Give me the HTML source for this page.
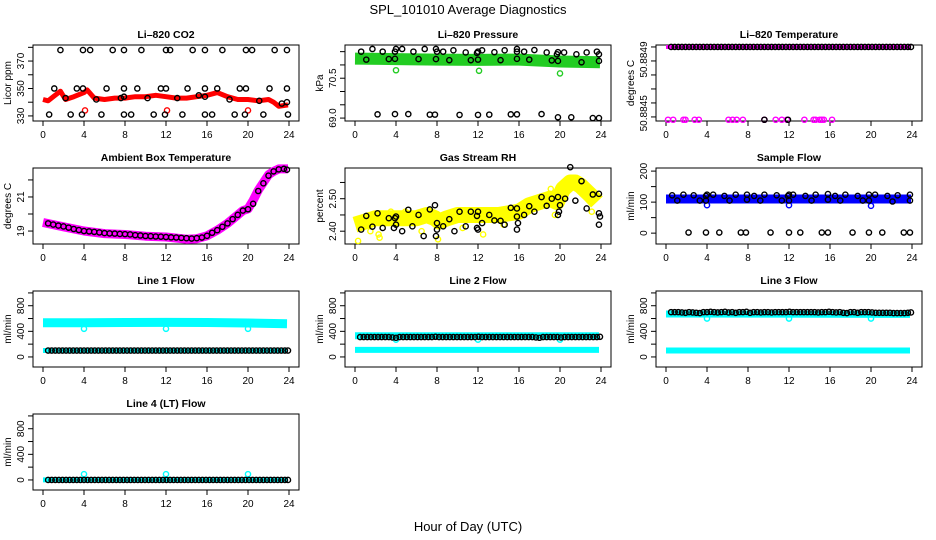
<!DOCTYPE html>
<html><head><meta charset="utf-8"><style>
html,body{margin:0;padding:0;background:#fff;}
svg{display:block;font-family:"Liberation Sans",sans-serif;}
</style></head><body>
<svg id="chart" width="936" height="540" xmlns="http://www.w3.org/2000/svg">
<rect width="936" height="540" fill="#fff"/>
<text x="468" y="14" font-size="13" text-anchor="middle">SPL_101010  Average Diagnostics</text>
<text x="468" y="531" font-size="13" text-anchor="middle">Hour of Day (UTC)</text>
</svg>
<script>
// ---------- data ----------
const dH = [0.5,0.85,1.2,1.55,1.9,2.25,2.6,2.95,3.3,3.65,4.0,4.35,4.7,5.05,5.4,5.75,6.1,6.45,6.8,7.15,7.5,7.85,8.2,8.55,8.9,9.25,9.6,9.95,10.3,10.65,11.0,11.35,11.7,12.05,12.4,12.75,13.1,13.45,13.8,14.15,14.5,14.85,15.2,15.55,15.9,16.25,16.6,16.95,17.3,17.65,18.0,18.35,18.7,19.05,19.4,19.75,20.1,20.45,20.8,21.15,21.5,21.85,22.2,22.55,22.9,23.25,23.6,23.9];
// CO2
const co2BandH = [0,0.5,1,1.7,2.2,3,4,4.3,5,6,7,8,9,10,11,12,13,14,15,16,17,18,19,20,21,22,22.5,23,23.9];
const co2BandV = [342,341,344,348,342,344,347,349,343,342,343,343,344,344,345,344,343,343,344,345,347,344,342,342,341,342,340,337,338];
const co2RedH = [4.1,12.1,20];
const co2RedV = [334,334,334];
const co2BlkH = [1.7,3.9,4.6,6.8,7.9,9.6,12,12.4,14.6,15.8,17.5,19.8,20.4,22.6,23.8, 1.1,3.3,3.9,6.2,7.9,9.2,11.5,12,14.1,15.8,17,19.2,19.8,22.1,23.8, 2.2,5.2,7.6,7.9,10.2,13.1,15.2,15.8,18.2,21.1,23.3,23.8, 0.6,2.7,3.8,5.7,7.9,8.6,10.8,11.9,13.6,15.8,16.5,18.7,19.7,21.5,23.9];
const co2BlkV = [378,378,378,378,378,378,378,378,378,378,378,378,378,378,378, 350,350,350,350,350,350,350,350,350,350,350,350,350,350,350, 343,342,343,344,343,343,345,344,342,341,339,340, 331,331,331,331,331,331,331,331,331,331,331,331,331,331,331];
// Pressure
const prBandH = [0,4,8,12,16,20,23.9];
const prBandV = [71.24,71.22,71.2,71.19,71.2,71.13,71.1];
const prGrnH = [4,12.1,20];
const prGrnV = [70.8,70.78,70.68];
const prBlkH = [0.6,1.7,2.7,3.9,4,4.6,5.7,6.8,7.9,8,8.6,9.6,10.8,11.9,12,12.4,13.6,14.6,15.8,15.8,16.5,17.5,18.7,19.7,19.8,20.4,21.6,22.6,23.6,23.8, 1.1,3.3,3.9,6.2,7.9,9.2,11.3,12,14.2,15.8,17,19.2,19.8,22.1,23.8, 2.2,3.9,5.2,7.3,7.8,10.2,12,13.1,15.2,15.8,18.2,19.8,21.1,23.2,23.8];
const prBlkV = [71.5,71.6,71.5,71.5,71.6,71.6,71.5,71.6,71.6,71.5,71.5,71.55,71.47,71.45,71.5,71.55,71.48,71.55,71.6,71.5,71.5,71.56,71.47,71.4,71.48,71.47,71.4,71.47,71.5,71.4, 71.2,71.22,71.23,71.22,71.22,71.18,71.18,71.2,71.18,71.23,71.2,71.17,71.15,71.1,71.15, 69.14,69.15,69.15,69.13,69.13,69.12,69.12,69.13,69.14,69.14,69.15,69.03,69.03,69.0,69.0];
// Li-820 temperature
const ltBandH = [0,23.9];
const ltBandV = [50.8849,50.8849];
const ltBlkV = [50.8849,50.8849,50.8849,50.8849,50.8849,50.8849,50.8849,50.8849,50.8849,50.8849,50.8849,50.8849,50.8849,50.8849,50.8849,50.8849,50.8849,50.8849,50.8849,50.8849,50.8849,50.8849,50.8849,50.8849,50.8849,50.8849,50.8849,50.8849,50.8849,50.8849,50.8849,50.8849,50.8849,50.8849,50.8849,50.8849,50.8849,50.8849,50.8849,50.8849,50.8849,50.8849,50.8849,50.8849,50.8849,50.8849,50.8849,50.8849,50.8849,50.8849,50.8849,50.8849,50.8849,50.8849,50.8849,50.8849,50.8849,50.8849,50.8849,50.8849,50.8849,50.8849,50.8849,50.8849,50.8849,50.8849,50.8849,50.8849];
const ltMagH = [0.2,0.7,1.7,1.9,2.8,3.2,6.1,6.5,6.9,7.5,9.6,10.7,11.3,11.8,13.5,14.4,14.6,15.0,15.2,15.4,16.2];
const ltMagV = [50.88438,50.88438,50.88438,50.88438,50.88438,50.88438,50.88438,50.88438,50.88438,50.88438,50.88438,50.88438,50.88438,50.88438,50.88438,50.88438,50.88438,50.88438,50.88438,50.88438,50.88438];
const ltBlkLowH = [9.6,11.9];
const ltBlkLowV = [50.88438,50.88438];
// Ambient box temperature
const ambBandH = [0,2,4,6,8,10,12,14,15,16,17,18,19,19.5,20,20.5,21,22,22.5,23,23.9];
const ambBandV = [19.5,19.25,19.0,18.85,18.8,18.7,18.65,18.52,18.55,18.72,19.05,19.45,19.95,20.2,20.3,20.8,21.4,22.3,22.5,22.65,22.65];
const ambH = [0.5,1,1.5,2,2.5,3,3.5,4,4.5,5,5.5,6,6.5,7,7.5,8,8.5,9,9.5,10,10.5,11,11.5,12,12.5,13,13.5,14,14.5,15,15.5,16,16.5,17,17.5,18,18.5,19,19.5,20,20.5,21,21.5,22,22.5,23,23.5,23.8];
const ambV = [19.45,19.38,19.32,19.27,19.2,19.12,19.06,19.0,18.98,18.95,18.92,18.88,18.86,18.85,18.83,18.82,18.8,18.76,18.74,18.71,18.7,18.68,18.67,18.65,18.63,18.62,18.6,18.58,18.56,18.58,18.62,18.72,18.9,19.05,19.25,19.45,19.7,19.95,20.2,20.28,20.6,21.35,21.8,22.25,22.5,22.62,22.65,22.6];
// Gas stream RH
const rhBandH = [0,1,2,3,4,5,6,7,7.8,8.2,9,10,11,12,13,14,15,16,17,18,19,19.7,20.3,21,21.5,22,23,23.6];
const rhBandV = [2.42,2.43,2.44,2.44,2.44,2.44,2.44,2.45,2.44,2.43,2.44,2.45,2.45,2.45,2.45,2.45,2.455,2.46,2.48,2.49,2.50,2.49,2.53,2.55,2.55,2.54,2.51,2.49];
const rhYelH = [0.3,2.3,2.4,8.1,12.5,19.1,23.1,3.5,4.9,19.5,1.5,6.5,10.5,14.5,17.5];
const rhYelV = [2.37,2.39,2.38,2.375,2.39,2.53,2.46,2.46,2.46,2.45,2.4,2.4,2.41,2.42,2.47];
const rhBlkH = [0.6,1.1,1.7,2.2,2.7,3.3,3.8,3.9,4,4,4.6,5.2,5.6,6.2,6.7,7.3,7.8,7.9,8,8,8.6,9.2,9.7,10.2,10.8,11.3,11.9,12,11.9,12,12.4,13.1,13.6,14.2,14.6,15.2,15.8,15.8,15.9,15.8,16.5,17,17.5,18.2,18.7,19.2,19.8,19.8,19.9,20,20.5,21,21.5,22.1,22.6,23.2,23.8,23.8,23.9,23.8];
const rhBlkV = [2.405,2.447,2.414,2.455,2.41,2.44,2.41,2.44,2.445,2.42,2.40,2.466,2.415,2.45,2.385,2.467,2.48,2.385,2.425,2.405,2.415,2.437,2.40,2.46,2.415,2.46,2.447,2.46,2.41,2.405,2.425,2.45,2.433,2.432,2.42,2.472,2.47,2.445,2.425,2.405,2.45,2.477,2.46,2.505,2.478,2.5,2.505,2.45,2.46,2.48,2.5,2.597,2.494,2.554,2.47,2.513,2.515,2.455,2.445,2.42];
// Sample flow
const sfBandH = [0,4,8,12,16,20,23.9];
const sfBandV = [110,110,110,110,110,110,110];
const sfBluH = [4,12,20];
const sfBluV = [90,90,88];
const sfBlkH = [0.6,1.7,2.7,3.9,4,4.6,5.7,6.8,7.9,8.6,9.6,10.8,11.9,12,12.4,13.6,14.6,15.8,16.5,17.5,18.7,19.8,20.4,21.6,22.6,23.8, 1.1,3.3,3.9,6.2,7.9,9.2,11.3,12,14.2,15.8,17,19.2,19.8,22.1,23.8, 2.2,3.9,5.2,7.3,7.8,10.2,12,13.1,15.2,15.8,18.2,19.8,21.1,23.2,23.8];
const sfBlkV = [122,124,122,120,124,124,120,124,124,120,124,122,120,124,124,120,124,126,120,124,120,124,124,120,122,124, 105,105,105,105,108,105,105,105,105,108,105,105,105,102,105, 2,2,2,2,2,2,2,2,2,2,2,2,2,2,2];
// Line flows
const dipH = [4,12,20];
const l1TopH = [0,4,8,12,16,20,23.8];
const l1TopV = [535,535,538,540,538,530,520];
const l1DipV = [440,440,440];
const l1BotH = [0,23.8];
const l1BotV = [100,100];
const l1BlkV = [100,100,100,100,100,100,100,100,100,100,100,100,100,100,100,100,100,100,100,100,100,100,100,100,100,100,100,100,100,100,100,100,100,100,100,100,100,100,100,100,100,100,100,100,100,100,100,100,100,100,100,100,100,100,100,100,100,100,100,100,100,100,100,100,100,100,100,100];
const l2TopH = [0,23.8];
const l2TopV = [330,330];
const l2DipV = [270,270,270];
const l2BotH = [0,23.8];
const l2BotV = [110,110];
const l2BlkV = [310,310,310,310,310,310,310,310,310,305,300,310,310,310,310,310,310,310,310,310,310,315,310,310,310,310,310,310,310,310,310,310,310,315,310,310,310,310,310,310,310,310,310,310,310,310,310,310,310,305,300,310,310,310,310,310,305,310,310,310,310,310,310,310,310,310,310,315];
const l3TopH = [0,23.8];
const l3TopV = [670,665];
const l3DipV = [600,600,600];
const l3BotH = [0,23.8];
const l3BotV = [100,100];
const l3BlkV = [700,700,700,695,690,700,695,690,685,700,700,705,700,695,700,705,695,700,690,700,700,705,690,700,700,695,700,700,695,700,700,700,700,705,700,700,700,700,700,700,700,695,700,700,705,700,695,700,690,685,700,700,690,700,700,700,695,690,690,690,690,690,685,685,685,685,690,695];
const l4BandH = [0,23.9];
const l4BandV = [0,0];
const l4CyaH = [4,12,20];
const l4CyaV = [90,90,90];
const l4BlkV = [0,0,0,0,0,0,0,0,0,0,0,0,0,0,0,0,0,0,0,0,0,0,0,0,0,0,0,0,0,0,0,0,0,0,0,0,0,0,0,0,0,0,0,0,0,0,0,0,0,0,0,0,0,0,0,0,0,0,0,0,0,0,0,0,0,0,0,0];
// ticks
const xTicks = [0,4,8,12,16,20,24];
const flowTicks = [0,200,400,600,800,1000];
const flowLabels = [0,400,800];

// ---------- drawing ----------
const NS = "http://www.w3.org/2000/svg";
const svg = document.getElementById('chart');
const colLeft = [33,345,656], rowTop = [45,168,291,414], W = 266, H = 76;
function mk(tag, attrs, parent){const e=document.createElementNS(NS,tag);for(const k in attrs)e.setAttribute(k,attrs[k]);(parent||svg).appendChild(e);return e;}

function panel(name, title, ylab, col, row, ymin, ymax, yticks, ylabels, ylabelText){
  const L = colLeft[col], T = rowTop[row];
  const g = mk('g',{});
  
  
  const sx = h => L + 10 + h/24*246;
  const sy = v => T + H - (v - ymin)/(ymax - ymin)*H;
  const t = mk('text',{x:L+W/2,y:T-7,'font-size':10.5,'font-weight':'bold','text-anchor':'middle'},g);
  t.textContent = title;
  
  
  const yl = mk('text',{x:0,y:0,'font-size':10,'text-anchor':'middle',transform:`translate(${L-22},${T+H/2}) rotate(-90)`},g);
  yl.textContent = ylab;
  
  
  const box = mk('rect',{x:L,y:T,width:W,height:H,fill:'none',stroke:'#000','stroke-width':1},g);
  
  
  const xa = mk('g',{},g);
  
  
  mk('line',{x1:sx(0),x2:sx(24),y1:T+H,y2:T+H,stroke:'#000'},xa);
  xTicks.forEach(v=>{
    mk('line',{x1:sx(v),x2:sx(v),y1:T+H,y2:T+H+5,stroke:'#000'},xa);
    const tl = mk('text',{x:sx(v),y:T+H+17,'font-size':10,'text-anchor':'middle'},xa);
    tl.textContent = v;
  });
  const ya = mk('g',{},g);
  
  
  yticks.forEach(v=>{ mk('line',{x1:L-5,x2:L,y1:sy(v),y2:sy(v),stroke:'#000'},ya); });
  ylabels.forEach((v,i)=>{
    const tl = mk('text',{x:0,y:0,'font-size':10,'text-anchor':'middle',transform:`translate(${L-9},${sy(v)}) rotate(-90)`},ya);
    tl.textContent = ylabelText ? ylabelText[i] : v;
  });
  return {g,sx,sy};
}
function band(p, hs, vs, color, w, name){
  const d = hs.map((h,i)=>(i?'L':'M')+p.sx(h).toFixed(1)+','+p.sy(vs[i]).toFixed(1)).join(' ');
  const e = mk('path',{d,fill:'none',stroke:color,'stroke-width':w,'stroke-linejoin':'round','stroke-linecap':'butt'},p.g);
  
  
}
function pts(p, hs, vs, color, name){
  const g = mk('g',{},p.g);
  
  
  hs.forEach((h,i)=>{
    const c = mk('circle',{cx:p.sx(h),cy:p.sy(vs[i]),r:2.6,fill:'none',stroke:color,'stroke-width':1.4},g);
    
    
  });
}

// Li-820 CO2
let p = panel('co2','Li\u2013820 CO2','Licor ppm',0,0,326.3,381.7,[330,340,350,360,370,380],[330,350,370]);
band(p,co2BandH,co2BandV,'#ff0000',5,'co2-band');
pts(p,co2RedH,co2RedV,'#ff0000','co2-red-points');
pts(p,co2BlkH,co2BlkV,'#000','co2-black-points');
// Pressure
p = panel('pressure','Li\u2013820 Pressure','kPa',1,0,68.89,71.75,[69,69.5,70,70.5,71,71.5],[69.0,70.5],['69.0','70.5']);
band(p,prBandH,prBandV,'#22cc22',12,'pressure-band');
pts(p,prGrnH,prGrnV,'#22cc22','pressure-green-points');
pts(p,prBlkH,prBlkV,'#000','pressure-black-points');
// Li-820 temp
p = panel('li820-temp','Li\u2013820 Temperature','degrees C',2,0,50.884371,50.884914,[50.8849,50.8848,50.8847,50.8846,50.8845,50.8844],[50.88481,50.884426],['50.8849','50.8845']);
band(p,ltBandH,ltBandV,'#ff00ff',4,'li820-temp-band');
pts(p,dH,ltBlkV,'#000','li820-temp-black-points');
pts(p,ltMagH,ltMagV,'#ff00ff','li820-temp-magenta-points');
pts(p,ltBlkLowH,ltBlkLowV,'#000','li820-temp-black-low-points');
// Ambient
p = panel('ambient','Ambient Box Temperature','degrees C',0,1,18.24,22.7,[19,20,21,22],[19,21]);
band(p,ambBandH,ambBandV,'#ff00ff',9,'ambient-band');
pts(p,ambH,ambV,'#000','ambient-black-points');
// RH
p = panel('rh','Gas Stream RH','percent',1,1,2.3606,2.5945,[2.40,2.45,2.50,2.55],[2.40,2.50],['2.40','2.50']);
band(p,rhBandH,rhBandV,'#ffff00',16,'rh-band');
pts(p,rhYelH,rhYelV,'#ffff00','rh-yellow-points');
pts(p,rhBlkH,rhBlkV,'#000','rh-black-points');
// Sample flow
p = panel('sample-flow','Sample Flow','ml/min',2,1,-35,210,[0,50,100,150,200],[0,100,200]);
band(p,sfBandH,sfBandV,'#0000ff',9,'sample-flow-band');
pts(p,sfBluH,sfBluV,'#0000ff','sample-flow-blue-points');
pts(p,sfBlkH,sfBlkV,'#000','sample-flow-black-points');
// Line 1
p = panel('line1','Line 1 Flow','ml/min',0,2,-157,1030,flowTicks,flowLabels);
band(p,l1TopH,l1TopV,'#00ffff',9,'line1-top-band');
pts(p,dipH,l1DipV,'#00ffff','line1-dip-points');
band(p,l1BotH,l1BotV,'#00ffff',5,'line1-bottom-band');
pts(p,dH,l1BlkV,'#000','line1-black-points');
// Line 2
p = panel('line2','Line 2 Flow','ml/min',1,2,-157,1030,flowTicks,flowLabels);
band(p,l2TopH,l2TopV,'#00ffff',7,'line2-top-band');
pts(p,dipH,l2DipV,'#00ffff','line2-dip-points');
band(p,l2BotH,l2BotV,'#00ffff',6,'line2-bottom-band');
pts(p,dH,l2BlkV,'#000','line2-black-points');
// Line 3
p = panel('line3','Line 3 Flow','ml/min',2,2,-157,1030,flowTicks,flowLabels);
band(p,l3TopH,l3TopV,'#00ffff',7,'line3-top-band');
pts(p,dipH,l3DipV,'#00ffff','line3-dip-points');
band(p,l3BotH,l3BotV,'#00ffff',6,'line3-bottom-band');
pts(p,dH,l3BlkV,'#000','line3-black-points');
// Line 4
p = panel('line4','Line 4 (LT) Flow','ml/min',0,3,-157,1030,flowTicks,flowLabels);
band(p,l4BandH,l4BandV,'#00ffff',5,'line4-band');
pts(p,l4CyaH,l4CyaV,'#00ffff','line4-cyan-points');
pts(p,dH,l4BlkV,'#000','line4-black-points');
</script>
</body></html>
